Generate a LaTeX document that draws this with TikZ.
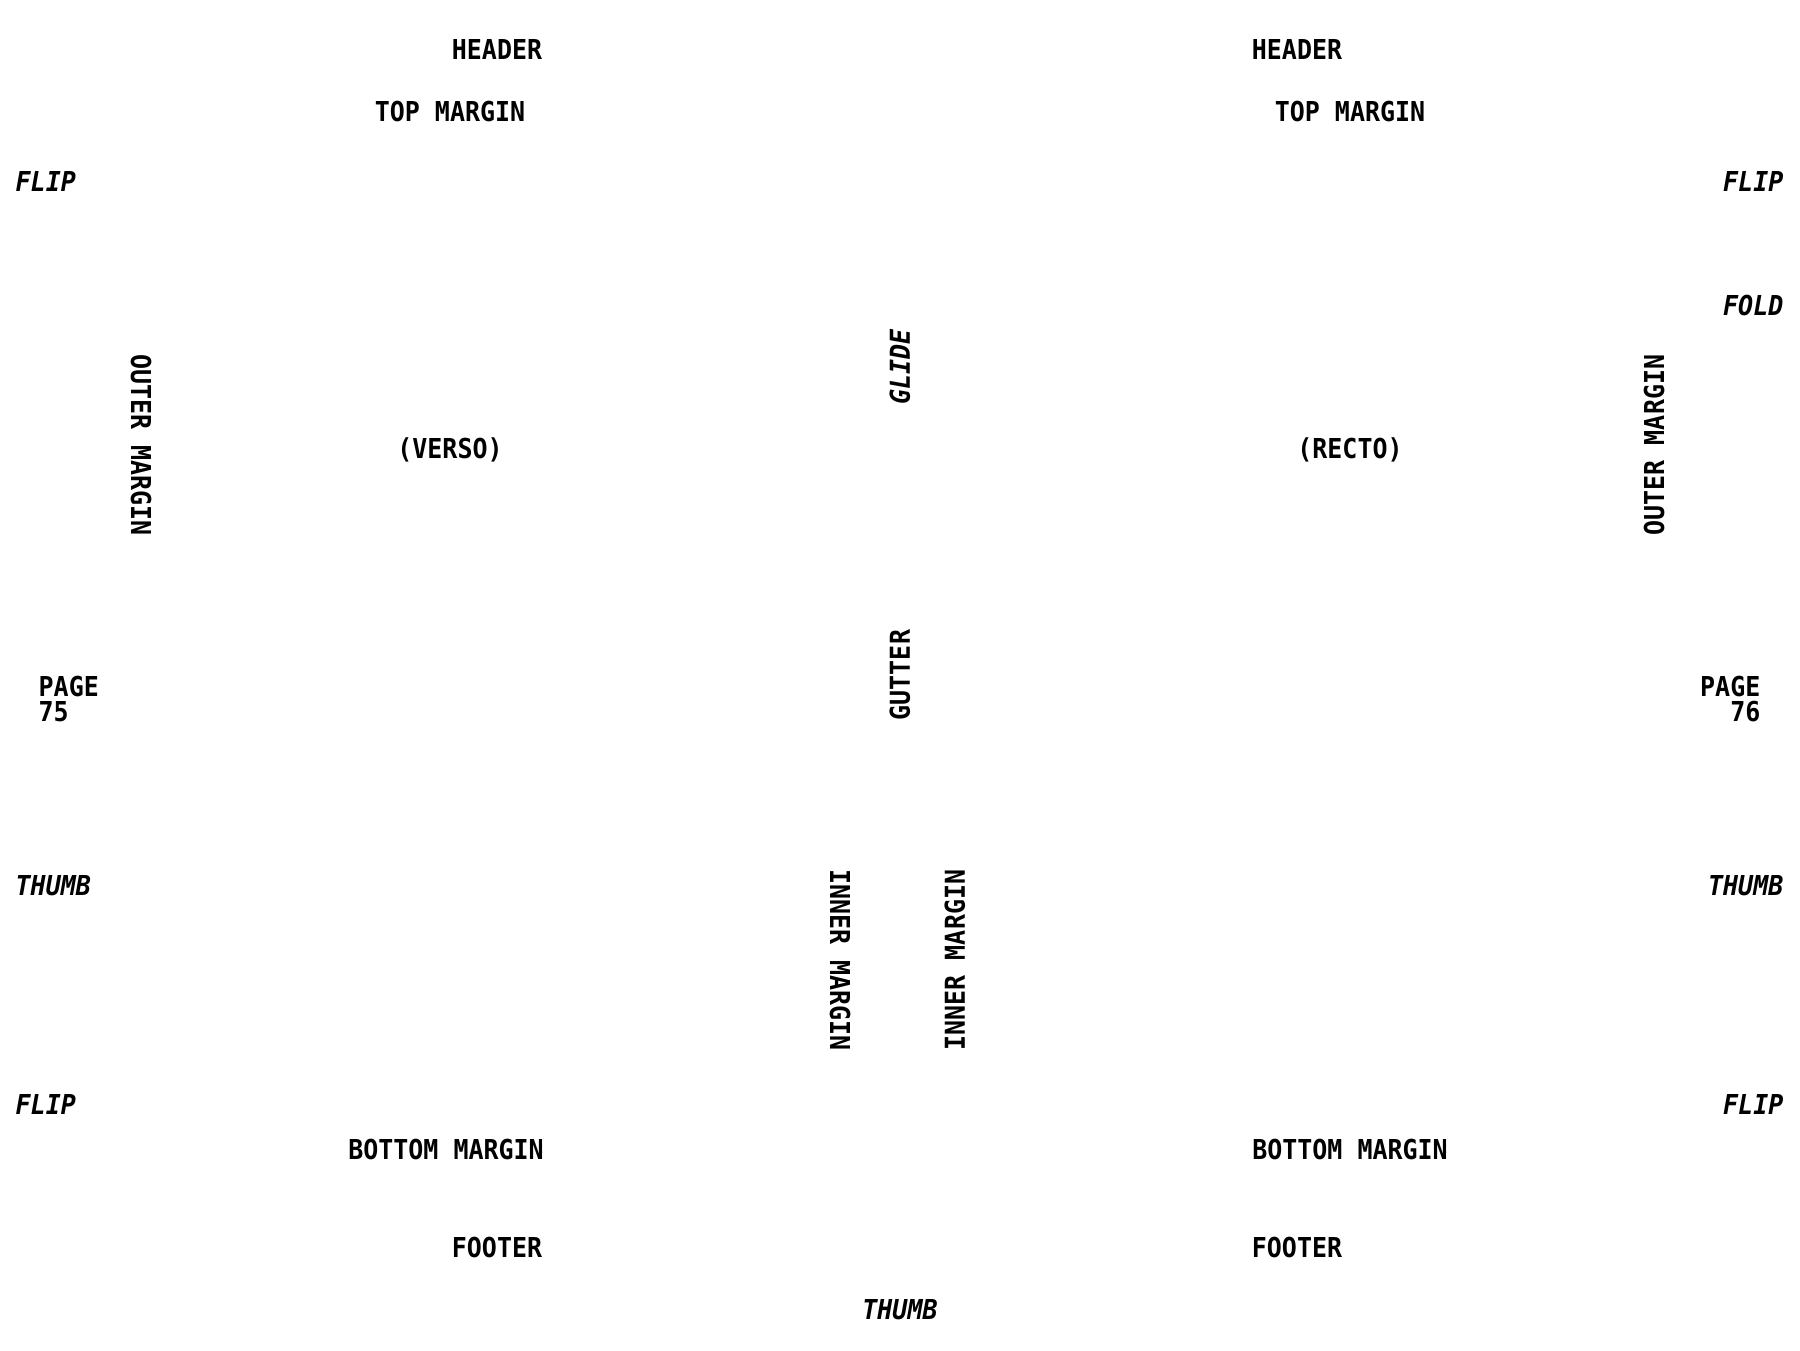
\documentclass[tikz,border=0pt]{standalone}
\usepackage{fontspec}
\newfontfamily\specfont{DejaVu Sans Mono}[FakeStretch=0.91]
\usetikzlibrary{positioning}
\tikzset{
  lbl/.style={font=\specfont\bfseries\fontsize{7.8}{7.2}\selectfont,
              inner sep=0pt,align=center,text=black},
  ital/.style={lbl,font=\specfont\bfseries\itshape\fontsize{7.8}{7.2}\selectfont}
}
\begin{document}
\begin{tikzpicture}[x=0.01cm,y=-0.01cm]
  \fill[white] (0,0) rectangle (1800,1350);
  \useasboundingbox (0,0) rectangle (1800,1350);
  % verso
  \node[lbl] (headL) at (497,49) {HEADER};
  \node[lbl] (topL) at (450,111) {TOP MARGIN};
  \node[ital,anchor=west] (flipTL) at (15,181) {FLIP};
  \node[lbl,rotate=-90] (outerL) at (141,445) {OUTER MARGIN};
  \node[lbl] (verso) at (450,450) {(VERSO)};
  \node[lbl,align=left,anchor=west] (pageL) at (38,699) {PAGE\\75};
  \node[ital,anchor=west] (thumbL) at (15,886) {THUMB};
  \node[lbl,rotate=-90] (innerL) at (840,960) {INNER MARGIN};
  \node[ital,anchor=west] (flipBL) at (15,1104) {FLIP};
  \node[lbl] (botL) at (446,1149) {BOTTOM MARGIN};
  \node[lbl] (footL) at (497,1247) {FOOTER};
  % spine
  \node[ital,rotate=90] (glide) at (900,367) {GLIDE};
  \node[lbl,rotate=90] (gutter) at (900,675) {GUTTER};
  \node[ital] (thumbB) at (900,1310) {THUMB};
  % recto
  \node[lbl] (headR) at (1297,49) {HEADER};
  \node[lbl] (topR) at (1350,111) {TOP MARGIN};
  \node[ital,anchor=east] (flipTR) at (1784,181) {FLIP};
  \node[ital,anchor=east] (fold) at (1784,305) {FOLD};
  \node[lbl,rotate=90] (outerR) at (1654,445) {OUTER MARGIN};
  \node[lbl] (recto) at (1350,450) {(RECTO)};
  \node[lbl,align=right,anchor=east] (pageR) at (1761,699) {PAGE\\76};
  \node[ital,anchor=east] (thumbR) at (1784,886) {THUMB};
  \node[lbl,rotate=90] (innerR) at (955,960) {INNER MARGIN};
  \node[ital,anchor=east] (flipBR) at (1784,1104) {FLIP};
  \node[lbl] (botR) at (1350,1149) {BOTTOM MARGIN};
  \node[lbl] (footR) at (1297,1247) {FOOTER};
\end{tikzpicture}
\end{document}
